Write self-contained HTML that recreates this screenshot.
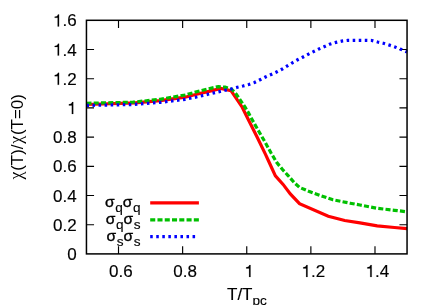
<!DOCTYPE html>
<html><head><meta charset="utf-8"><title>plot</title>
<style>html,body{margin:0;padding:0;background:#fff;}svg{display:block;will-change:transform;}text{font-family:"Liberation Sans",sans-serif;font-size:17px;fill:#000;stroke:#000;stroke-width:0.15px;}g.yl text{stroke:none;}</style></head>
<body>
<svg width="436" height="305" viewBox="0 0 436 305">
<rect width="436" height="305" fill="#fff"/>
<path d="M86.45,224.70 h7.60 M407.05,224.70 h-7.60 M86.45,195.50 h7.60 M407.05,195.50 h-7.60 M86.45,166.30 h7.60 M407.05,166.30 h-7.60 M86.45,137.10 h7.60 M407.05,137.10 h-7.60 M86.45,107.90 h7.60 M407.05,107.90 h-7.60 M86.45,78.70 h7.60 M407.05,78.70 h-7.60 M86.45,49.50 h7.60 M407.05,49.50 h-7.60 M118.51,253.90 v-7.60 M118.51,20.30 v7.60 M182.63,253.90 v-7.60 M182.63,20.30 v7.60 M246.75,253.90 v-7.60 M246.75,20.30 v7.60 M310.87,253.90 v-7.60 M310.87,20.30 v7.60 M374.99,253.90 v-7.60 M374.99,20.30 v7.60" stroke="#000" stroke-width="1.15" fill="none"/>
<text x="67.15" y="260.00">0</text>
<text x="52.97" y="230.80">0.2</text>
<text x="52.97" y="201.60">0.4</text>
<text x="52.97" y="172.40">0.6</text>
<text x="52.97" y="143.20">0.8</text>
<path transform="translate(67.15,114.00) scale(0.01700,-0.01700)" d="M275,0 L275,505 L101,505 L101,568 C200,575 270,610 295,703 L359,703 L359,0 Z" fill="#000" stroke="#000" stroke-width="8.8"/>
<path transform="translate(52.97,84.80) scale(0.01700,-0.01700)" d="M275,0 L275,505 L101,505 L101,568 C200,575 270,610 295,703 L359,703 L359,0 Z" fill="#000" stroke="#000" stroke-width="8.8"/><text x="62.42" y="84.80">.2</text>
<path transform="translate(52.97,55.60) scale(0.01700,-0.01700)" d="M275,0 L275,505 L101,505 L101,568 C200,575 270,610 295,703 L359,703 L359,0 Z" fill="#000" stroke="#000" stroke-width="8.8"/><text x="62.42" y="55.60">.4</text>
<path transform="translate(52.97,26.40) scale(0.01700,-0.01700)" d="M275,0 L275,505 L101,505 L101,568 C200,575 270,610 295,703 L359,703 L359,0 Z" fill="#000" stroke="#000" stroke-width="8.8"/><text x="62.42" y="26.40">.6</text>
<text x="109.09" y="277.00">0.6</text>
<text x="173.22" y="277.00">0.8</text>
<path transform="translate(244.42,277.00) scale(0.01700,-0.01700)" d="M275,0 L275,505 L101,505 L101,568 C200,575 270,610 295,703 L359,703 L359,0 Z" fill="#000" stroke="#000" stroke-width="8.8"/>
<path transform="translate(301.45,277.00) scale(0.01700,-0.01700)" d="M275,0 L275,505 L101,505 L101,568 C200,575 270,610 295,703 L359,703 L359,0 Z" fill="#000" stroke="#000" stroke-width="8.8"/><text x="310.91" y="277.00">.2</text>
<path transform="translate(365.57,277.00) scale(0.01700,-0.01700)" d="M275,0 L275,505 L101,505 L101,568 C200,575 270,610 295,703 L359,703 L359,0 Z" fill="#000" stroke="#000" stroke-width="8.8"/><text x="375.03" y="277.00">.4</text>
<g fill="none" stroke-width="3.20" stroke-linejoin="miter">
<path d="M86.45,104.50 L135.00,102.90 L160.20,100.60 L185.00,97.20 L196.50,94.30 L207.90,91.60 L220.80,88.45 L231.00,90.60 L242.20,107.20 L247.90,118.70 L257.20,137.20 L265.50,154.40 L268.80,161.50 L275.40,175.80 L283.10,184.40 L290.30,193.90 L299.50,203.70 L328.30,216.20 L344.70,220.50 L360.00,222.90 L377.20,225.80 L394.40,227.50 L407.05,228.70" stroke="#ff0000"/>
<path d="M86.45,103.30 L133.00,102.20 L160.20,99.30 L185.00,95.00 L196.50,91.80 L207.90,88.90 L218.30,86.60 L225.10,87.20 L231.80,89.30 L236.50,94.60 L240.80,100.90 L245.10,107.20 L248.50,112.90 L251.60,118.70 L254.80,124.40 L258.90,131.50 L265.50,142.90 L271.20,153.30 L276.80,162.60 L282.50,169.50 L288.30,175.80 L294.50,182.90 L299.50,187.40 L308.70,191.30 L320.00,195.40 L333.00,199.80 L350.10,203.20 L360.00,205.00 L377.20,208.30 L394.40,210.30 L407.05,211.80" stroke="#00c000" stroke-dasharray="5.05 2.22"/>
<path d="M86.45,105.40 L132.00,104.60 L160.20,102.40 L185.00,99.30 L196.50,97.00 L207.90,94.30 L219.40,91.60 L225.30,90.20 L231.30,89.00 L237.40,87.30 L243.00,86.00 L248.80,84.50 L254.50,82.50 L260.00,79.80 L265.40,77.00 L271.10,74.50 L276.50,72.00 L281.80,69.30 L292.00,63.00 L297.20,60.00 L302.70,57.20 L308.10,54.30 L313.50,51.60 L319.00,48.90 L324.50,46.60 L329.60,44.20 L335.90,42.40 L341.60,41.10 L347.60,40.40 L353.70,40.30 L365.70,40.30 L371.80,40.50 L377.60,42.00 L383.30,43.30 L389.30,45.10 L395.00,47.00 L400.80,49.30 L407.05,52.00" stroke="#0000ff" stroke-dasharray="2.55 3.5"/>
<path d="M150.2,202.8 H198.9" stroke="#ff0000"/>
<path d="M150.2,219.9 H198.9" stroke="#00c000" stroke-dasharray="5.05 2.22"/>
<path d="M150.2,236.6 H198.4" stroke="#0000ff" stroke-dasharray="2.55 3.5"/>
</g>
<rect x="86.45" y="20.30" width="320.60" height="233.60" fill="none" stroke="#000" stroke-width="1.50"/>
<text transform="translate(104.88,206.80) scale(1.075,1)" style="font-size:14.5px;stroke-width:0.35px">σ</text><text x="115.13" y="211.70" style="font-size:13.6px">q</text><text transform="translate(122.69,206.80) scale(1.075,1)" style="font-size:14.5px;stroke-width:0.35px">σ</text><text x="132.94" y="211.70" style="font-size:13.6px">q</text>
<text transform="translate(105.64,223.80) scale(1.075,1)" style="font-size:14.5px;stroke-width:0.35px">σ</text><text x="115.89" y="228.70" style="font-size:13.6px">q</text><text transform="translate(123.45,223.80) scale(1.075,1)" style="font-size:14.5px;stroke-width:0.35px">σ</text><text x="133.70" y="228.70" style="font-size:13.6px">s</text>
<text transform="translate(106.40,240.80) scale(1.075,1)" style="font-size:14.5px;stroke-width:0.35px">σ</text><text x="116.65" y="245.70" style="font-size:13.6px">s</text><text transform="translate(123.45,240.80) scale(1.075,1)" style="font-size:14.5px;stroke-width:0.35px">σ</text><text x="133.70" y="245.70" style="font-size:13.6px">s</text>
<text x="227.0" y="300">T/T<tspan font-size="13.6" dy="5.1">pc</tspan></text>
<g transform="translate(22.9,180.20) rotate(-90)" class="yl">
<text x="0.67" y="-0.7" style="font-family:&quot;Liberation Serif&quot;,serif;font-size:18px">χ</text>
<text x="9.33" y="0">(T)/</text>
<text x="36.44" y="-0.7" style="font-family:&quot;Liberation Serif&quot;,serif;font-size:18px">χ</text>
<text x="45.1" y="0">(T=0)</text>
</g>
</svg>
</body></html>
